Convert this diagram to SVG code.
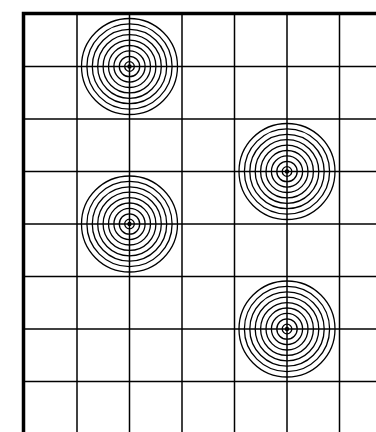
<svg xmlns="http://www.w3.org/2000/svg" width="376" height="432" viewBox="0 0 376 432">
  <defs>
    <style>
      .grid line { stroke: #000; stroke-width: 1.5; }
      .border { stroke: #000; stroke-width: 3.5; fill: none; }
      .ring { fill: none; stroke: #000; stroke-width: 1.3; }
      .dot { fill: #000; }
    </style>
    <g id="target">
      <circle class="ring" r="4.8"/>
      <circle class="ring" r="10.2"/>
      <circle class="ring" r="15.6"/>
      <circle class="ring" r="21"/>
      <circle class="ring" r="26.4"/>
      <circle class="ring" r="31.8"/>
      <circle class="ring" r="37.2"/>
      <circle class="ring" r="42.6"/>
      <circle class="ring" r="48"/>
      <circle class="dot" r="2.2"/>
    </g>
  </defs>
  <rect width="376" height="432" fill="#fff"/>
  <g id="grid" class="grid">
    <line x1="77" y1="14" x2="77" y2="432"/>
    <line x1="129.5" y1="14" x2="129.5" y2="432"/>
    <line x1="182" y1="14" x2="182" y2="432"/>
    <line x1="234.5" y1="14" x2="234.5" y2="432"/>
    <line x1="287" y1="14" x2="287" y2="432"/>
    <line x1="339.5" y1="14" x2="339.5" y2="432"/>
    <line x1="24" y1="66.5" x2="376" y2="66.5"/>
    <line x1="24" y1="119" x2="376" y2="119"/>
    <line x1="24" y1="171.5" x2="376" y2="171.5"/>
    <line x1="24" y1="224" x2="376" y2="224"/>
    <line x1="24" y1="276.5" x2="376" y2="276.5"/>
    <line x1="24" y1="329" x2="376" y2="329"/>
    <line x1="24" y1="381.5" x2="376" y2="381.5"/>
  </g>
  <path id="border" class="border" d="M23.5 432 V13.5 H376"/>
  <use id="target1" href="#target" x="129.5" y="66.5"/>
  <use id="target2" href="#target" x="129.5" y="224"/>
  <use id="target3" href="#target" x="287" y="171.5"/>
  <use id="target4" href="#target" x="287" y="329"/>
</svg>
